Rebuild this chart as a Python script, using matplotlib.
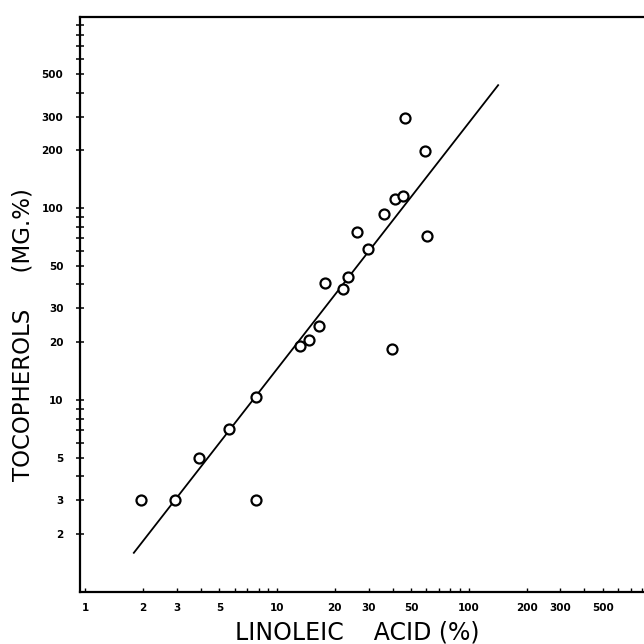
import matplotlib
matplotlib.use("Agg")
import matplotlib.pyplot as plt
from matplotlib.ticker import FixedLocator, NullFormatter

# Data
linoleic = [1.95, 2.95, 3.9, 5.6, 7.8, 7.8, 13.2, 14.7, 16.5, 17.7, 22.0,
            23.4, 26.1, 29.8, 36.1, 39.7, 41.2, 45.3, 46.4, 59.0, 60.4]
tocopherols = [3.0, 3.0, 5.0, 7.1, 10.4, 3.0, 19.1, 20.5, 24.3, 40.7, 37.9,
               43.7, 75.0, 61.2, 93.0, 18.4, 111.0, 115.0, 294.0, 198.0, 71.5]

fit_x = [1.79, 142.0]
fit_y = [1.6, 437.0]

x_ticks = [1, 2, 3, 5, 10, 20, 30, 50, 100, 200, 300, 500]
x_tick_labels = ["1", "2", "3", "5", "10", "20", "30", "50", "100", "200", "300", "500"]
y_ticks = [2, 3, 5, 10, 20, 30, 50, 100, 200, 300, 500]
y_tick_labels = ["2", "3", "5", "10", "20", "30", "50", "100", "200", "300", "500"]
minor_vals = [4, 6, 7, 8, 9, 40, 60, 70, 80, 90, 400, 600, 700, 800, 900]

fig = plt.figure(figsize=(6.44, 6.44), dpi=100)
ax = fig.add_axes([80 / 644, 52 / 644, 564 / 644, 575 / 644])

ax.plot(fit_x, fit_y, color="black", lw=1.3)
ax.plot(linoleic, tocopherols, "o", mfc="white", mec="black", mew=1.6, ms=7.2,
        linestyle="none")

ax.set_xscale("log")
ax.set_yscale("log")
ax.set_xlim(0.938, 818)
ax.set_ylim(1, 990)

ax.xaxis.set_major_locator(FixedLocator(x_ticks))
ax.xaxis.set_minor_locator(FixedLocator(minor_vals))
ax.set_xticklabels(x_tick_labels)
ax.xaxis.set_minor_formatter(NullFormatter())
ax.yaxis.set_major_locator(FixedLocator(y_ticks))
ax.yaxis.set_minor_locator(FixedLocator(minor_vals))
ax.set_yticklabels(y_tick_labels)
ax.yaxis.set_minor_formatter(NullFormatter())

ax.tick_params(axis="y", which="both", direction="inout", length=6, width=1.1,
               labelsize=7.5, pad=9)
ax.tick_params(axis="x", which="both", direction="in", length=3, width=1.0,
               labelsize=7.5, pad=8)
for lbl in ax.get_xticklabels() + ax.get_yticklabels():
    lbl.set_fontweight("bold")

for side in ["left", "bottom", "top"]:
    ax.spines[side].set_linewidth(1.6)
ax.spines["right"].set_visible(False)

ax.set_xlabel("LINOLEIC    ACID (%)", fontsize=17)
ax.set_ylabel("TOCOPHEROLS     (MG.%)", fontsize=16.5)
ax.xaxis.set_label_coords(0.491, -0.050)
ax.yaxis.set_label_coords(-0.080, 0.447)

fig.savefig("out.png", dpi=100)
